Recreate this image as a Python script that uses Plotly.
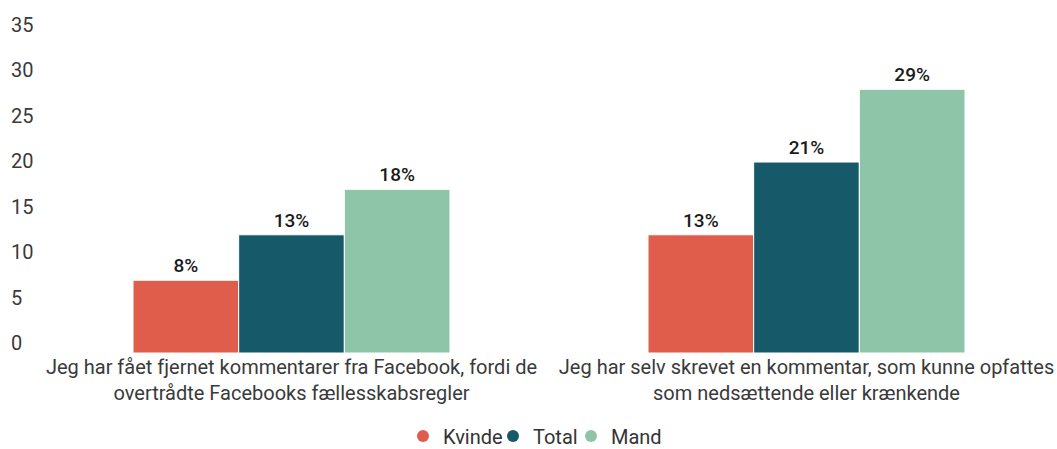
import plotly.graph_objects as go

categories = [
    "Jeg har fået fjernet kommentarer fra Facebook, fordi de<br>overtrådte Facebooks fællesskabsregler",
    "Jeg har selv skrevet en kommentar, som kunne opfattes<br>som nedsættende eller krænkende",
]
series_names = ["Kvinde", "Total", "Mand"]
kvinde = [8, 13]
total = [13, 21]
mand = [18, 29]
colors = ["#e05c4b", "#165a6a", "#8ec5a8"]
legend_widths = [45, 33, 60]
y_ticks = [0, 5, 10, 15, 20, 25, 30, 35]

W, H = 1057, 449
px_per_unit = 9.1
y_top = 38.6
zero_px = 353
left, right = 8, 0
top = zero_px - y_top * px_per_unit
bottom = H - zero_px
plot_w = W - left - right
plot_h = H - top - bottom
cat_px = 515
center0_px = 291.5 - left
x0 = -center0_px / cat_px
x1 = x0 + plot_w / cat_px

fig = go.Figure()
for name, vals, col, lw in zip(series_names, [kvinde, total, mand], colors, legend_widths):
    fig.add_trace(go.Bar(
        x=[0, 1], y=vals, name=name, showlegend=False,
        marker=dict(color=col, line=dict(color="white", width=1)),
        texttemplate="%{y:.0f}%", textposition="outside",
        textfont=dict(family="Roboto", size=19, color="#1a1a1a", weight=500),
        cliponaxis=False,
    ))
    fig.add_trace(go.Scatter(
        x=[None], y=[None], mode="markers", name=name, legendwidth=lw,
        marker=dict(symbol="circle", size=15, color=col),
    ))

legend_y = -(436 - zero_px) / plot_h

fig.update_layout(
    width=W, height=H,
    margin=dict(l=left, r=right, t=top, b=bottom, autoexpand=False),
    paper_bgcolor="white", plot_bgcolor="white",
    barmode="group", bargap=0.3845, bargroupgap=0,
    font=dict(family="Roboto", size=20, color="#333333"),
    legend=dict(orientation="h", x=(410 - 12) / W, xanchor="left", y=legend_y, yanchor="middle",
                font=dict(size=20, color="#333333"), itemwidth=30, tracegroupgap=0,
                itemsizing="constant"),
    xaxis=dict(range=[x0, x1], tickvals=[0, 1], ticktext=categories, showgrid=False,
               zeroline=False, showline=False, ticks="", tickfont=dict(size=20, color="#3a3a3a")),
    yaxis=dict(range=[0, y_top], tickvals=y_ticks, showgrid=False, zeroline=False,
               showline=False, ticks="", ticklabelposition="inside top", ticklabelshift=4,
               ticklabeloverflow="allow",
               tickfont=dict(size=20, color="#3a3a3a")),
)

fig.write_html("out.html", config={"displayModeBar": False},
               post_script="document.body.style.margin='0';document.body.style.overflow='hidden';")
